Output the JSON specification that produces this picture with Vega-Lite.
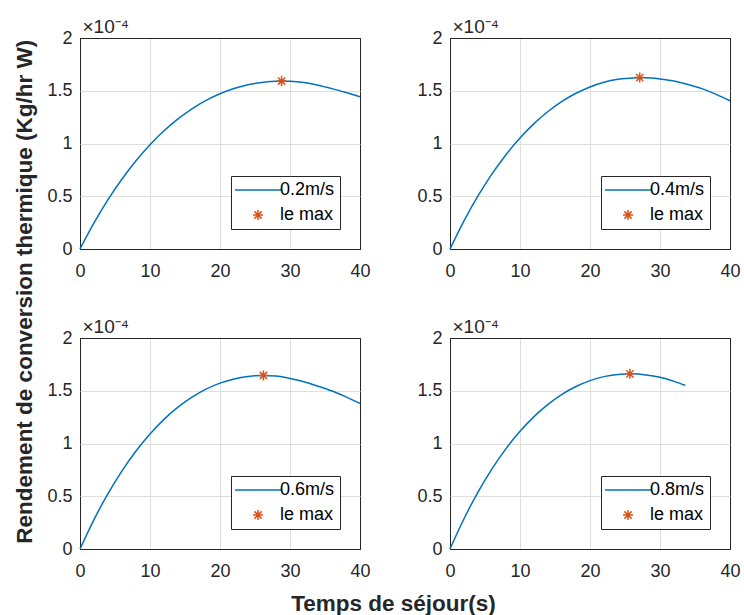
{
  "$schema": "https://vega.github.io/schema/vega-lite/v6.json",
  "padding": {"left": 13, "top": 16, "right": 5, "bottom": 5},
  "background": "white",
  "datasets": {
    "curves": [
      {"speed": "0.2m/s", "series": "0.2m/s", "t": 0, "y": 0},
      {"speed": "0.2m/s", "series": "0.2m/s", "t": 2, "y": 0.247},
      {"speed": "0.2m/s", "series": "0.2m/s", "t": 4, "y": 0.468},
      {"speed": "0.2m/s", "series": "0.2m/s", "t": 6, "y": 0.664},
      {"speed": "0.2m/s", "series": "0.2m/s", "t": 8, "y": 0.837},
      {"speed": "0.2m/s", "series": "0.2m/s", "t": 10, "y": 0.989},
      {"speed": "0.2m/s", "series": "0.2m/s", "t": 12, "y": 1.121},
      {"speed": "0.2m/s", "series": "0.2m/s", "t": 14, "y": 1.234},
      {"speed": "0.2m/s", "series": "0.2m/s", "t": 16, "y": 1.329},
      {"speed": "0.2m/s", "series": "0.2m/s", "t": 18, "y": 1.409},
      {"speed": "0.2m/s", "series": "0.2m/s", "t": 20, "y": 1.472},
      {"speed": "0.2m/s", "series": "0.2m/s", "t": 22, "y": 1.521},
      {"speed": "0.2m/s", "series": "0.2m/s", "t": 24, "y": 1.557},
      {"speed": "0.2m/s", "series": "0.2m/s", "t": 26, "y": 1.579},
      {"speed": "0.2m/s", "series": "0.2m/s", "t": 28, "y": 1.591},
      {"speed": "0.2m/s", "series": "0.2m/s", "t": 30, "y": 1.589},
      {"speed": "0.2m/s", "series": "0.2m/s", "t": 32, "y": 1.578},
      {"speed": "0.2m/s", "series": "0.2m/s", "t": 34, "y": 1.553},
      {"speed": "0.2m/s", "series": "0.2m/s", "t": 36, "y": 1.52},
      {"speed": "0.2m/s", "series": "0.2m/s", "t": 38, "y": 1.483},
      {"speed": "0.2m/s", "series": "0.2m/s", "t": 40, "y": 1.444},
      {"speed": "0.2m/s", "series": "le max", "t": 28.8, "y": 1.592},

      {"speed": "0.4m/s", "series": "0.4m/s", "t": 0, "y": 0},
      {"speed": "0.4m/s", "series": "0.4m/s", "t": 2, "y": 0.267},
      {"speed": "0.4m/s", "series": "0.4m/s", "t": 4, "y": 0.503},
      {"speed": "0.4m/s", "series": "0.4m/s", "t": 6, "y": 0.712},
      {"speed": "0.4m/s", "series": "0.4m/s", "t": 8, "y": 0.894},
      {"speed": "0.4m/s", "series": "0.4m/s", "t": 10, "y": 1.052},
      {"speed": "0.4m/s", "series": "0.4m/s", "t": 12, "y": 1.188},
      {"speed": "0.4m/s", "series": "0.4m/s", "t": 14, "y": 1.303},
      {"speed": "0.4m/s", "series": "0.4m/s", "t": 16, "y": 1.399},
      {"speed": "0.4m/s", "series": "0.4m/s", "t": 18, "y": 1.476},
      {"speed": "0.4m/s", "series": "0.4m/s", "t": 20, "y": 1.536},
      {"speed": "0.4m/s", "series": "0.4m/s", "t": 22, "y": 1.58},
      {"speed": "0.4m/s", "series": "0.4m/s", "t": 24, "y": 1.608},
      {"speed": "0.4m/s", "series": "0.4m/s", "t": 26, "y": 1.622},
      {"speed": "0.4m/s", "series": "0.4m/s", "t": 28, "y": 1.623},
      {"speed": "0.4m/s", "series": "0.4m/s", "t": 30, "y": 1.612},
      {"speed": "0.4m/s", "series": "0.4m/s", "t": 32, "y": 1.592},
      {"speed": "0.4m/s", "series": "0.4m/s", "t": 34, "y": 1.56},
      {"speed": "0.4m/s", "series": "0.4m/s", "t": 36, "y": 1.52},
      {"speed": "0.4m/s", "series": "0.4m/s", "t": 38, "y": 1.466},
      {"speed": "0.4m/s", "series": "0.4m/s", "t": 40, "y": 1.405},
      {"speed": "0.4m/s", "series": "le max", "t": 27.1, "y": 1.625},

      {"speed": "0.6m/s", "series": "0.6m/s", "t": 0, "y": 0},
      {"speed": "0.6m/s", "series": "0.6m/s", "t": 2, "y": 0.279},
      {"speed": "0.6m/s", "series": "0.6m/s", "t": 4, "y": 0.525},
      {"speed": "0.6m/s", "series": "0.6m/s", "t": 6, "y": 0.741},
      {"speed": "0.6m/s", "series": "0.6m/s", "t": 8, "y": 0.929},
      {"speed": "0.6m/s", "series": "0.6m/s", "t": 10, "y": 1.091},
      {"speed": "0.6m/s", "series": "0.6m/s", "t": 12, "y": 1.229},
      {"speed": "0.6m/s", "series": "0.6m/s", "t": 14, "y": 1.344},
      {"speed": "0.6m/s", "series": "0.6m/s", "t": 16, "y": 1.439},
      {"speed": "0.6m/s", "series": "0.6m/s", "t": 18, "y": 1.515},
      {"speed": "0.6m/s", "series": "0.6m/s", "t": 20, "y": 1.572},
      {"speed": "0.6m/s", "series": "0.6m/s", "t": 22, "y": 1.612},
      {"speed": "0.6m/s", "series": "0.6m/s", "t": 24, "y": 1.636},
      {"speed": "0.6m/s", "series": "0.6m/s", "t": 26, "y": 1.645},
      {"speed": "0.6m/s", "series": "0.6m/s", "t": 28, "y": 1.639},
      {"speed": "0.6m/s", "series": "0.6m/s", "t": 30, "y": 1.617},
      {"speed": "0.6m/s", "series": "0.6m/s", "t": 32, "y": 1.585},
      {"speed": "0.6m/s", "series": "0.6m/s", "t": 34, "y": 1.543},
      {"speed": "0.6m/s", "series": "0.6m/s", "t": 36, "y": 1.497},
      {"speed": "0.6m/s", "series": "0.6m/s", "t": 38, "y": 1.442},
      {"speed": "0.6m/s", "series": "0.6m/s", "t": 40, "y": 1.38},
      {"speed": "0.6m/s", "series": "le max", "t": 26.2, "y": 1.645},

      {"speed": "0.8m/s", "series": "0.8m/s", "t": 0, "y": 0},
      {"speed": "0.8m/s", "series": "0.8m/s", "t": 2, "y": 0.287},
      {"speed": "0.8m/s", "series": "0.8m/s", "t": 4, "y": 0.539},
      {"speed": "0.8m/s", "series": "0.8m/s", "t": 6, "y": 0.759},
      {"speed": "0.8m/s", "series": "0.8m/s", "t": 8, "y": 0.951},
      {"speed": "0.8m/s", "series": "0.8m/s", "t": 10, "y": 1.115},
      {"speed": "0.8m/s", "series": "0.8m/s", "t": 12, "y": 1.255},
      {"speed": "0.8m/s", "series": "0.8m/s", "t": 14, "y": 1.371},
      {"speed": "0.8m/s", "series": "0.8m/s", "t": 16, "y": 1.466},
      {"speed": "0.8m/s", "series": "0.8m/s", "t": 18, "y": 1.54},
      {"speed": "0.8m/s", "series": "0.8m/s", "t": 20, "y": 1.596},
      {"speed": "0.8m/s", "series": "0.8m/s", "t": 22, "y": 1.634},
      {"speed": "0.8m/s", "series": "0.8m/s", "t": 24, "y": 1.655},
      {"speed": "0.8m/s", "series": "0.8m/s", "t": 26, "y": 1.66},
      {"speed": "0.8m/s", "series": "0.8m/s", "t": 28, "y": 1.65},
      {"speed": "0.8m/s", "series": "0.8m/s", "t": 30, "y": 1.627},
      {"speed": "0.8m/s", "series": "0.8m/s", "t": 32, "y": 1.589},
      {"speed": "0.8m/s", "series": "0.8m/s", "t": 33.6, "y": 1.552},
      {"speed": "0.8m/s", "series": "le max", "t": 25.7, "y": 1.66}
    ]
  },
  "title": {
    "text": "Rendement de conversion thermique (Kg/hr W)",
    "orient": "left",
    "anchor": "middle",
    "font": "Liberation Sans",
    "fontSize": 22.5,
    "fontWeight": "bold",
    "color": "#262626",
    "offset": 10,
    "dx": 24
  },
  "vconcat": [
    {
      "title": {
        "text": "Temps de séjour(s)",
        "orient": "bottom",
        "anchor": "middle",
        "font": "Liberation Sans",
        "fontSize": 22.5,
        "fontWeight": "bold",
        "color": "#262626",
        "offset": 12
      },
      "columns": 2,
      "spacing": {"column": 90, "row": 89},
      "bounds": "flush",
      "resolve": {"scale": {"color": "independent", "shape": "independent"}, "legend": {"color": "independent", "shape": "independent"}},
      "concat": [
        {
          "width": 280, "height": 211,
          "view": {"stroke": "#262626"},
          "data": {"name": "curves"},
          "transform": [{"filter": "datum.speed === '0.2m/s'"}],
          "layer": [
            {
              "transform": [{"filter": "datum.series !== 'le max'"}],
              "mark": {"type": "line", "strokeWidth": 1.5, "interpolate": "monotone"},
              "encoding": {
                "x": {"field": "t", "type": "quantitative", "scale": {"domain": [0, 40]}, "axis": {"values": [0, 10, 20, 30, 40], "format": "~g", "title": null}},
                "y": {"field": "y", "type": "quantitative", "scale": {"domain": [0, 2]}, "axis": {"values": [0, 0.5, 1, 1.5, 2], "format": "~g", "title": "×10⁻⁴"}},
                "color": {"field": "series", "type": "nominal", "title": null, "scale": {"domain": ["0.2m/s", "le max"], "range": ["#0072BD", "#D95319"]}}
              }
            },
            {
              "transform": [{"filter": "datum.series === 'le max'"}],
              "mark": {"type": "point", "filled": false, "strokeWidth": 1.5, "size": 100, "opacity": 1},
              "encoding": {
                "x": {"field": "t", "type": "quantitative"},
                "y": {"field": "y", "type": "quantitative"},
                "color": {"field": "series", "type": "nominal", "title": null},
                "shape": {"field": "series", "type": "nominal", "title": null, "scale": {"domain": ["0.2m/s", "le max"], "range": ["M-4.6,0L4.6,0", "M0,-1L0,1M-1,0L1,0M-0.72,-0.72L0.72,0.72M-0.72,0.72L0.72,-0.72"]}}
              }
            }
          ]
        },
        {
          "width": 280, "height": 211,
          "view": {"stroke": "#262626"},
          "data": {"name": "curves"},
          "transform": [{"filter": "datum.speed === '0.4m/s'"}],
          "layer": [
            {
              "transform": [{"filter": "datum.series !== 'le max'"}],
              "mark": {"type": "line", "strokeWidth": 1.5, "interpolate": "monotone"},
              "encoding": {
                "x": {"field": "t", "type": "quantitative", "scale": {"domain": [0, 40]}, "axis": {"values": [0, 10, 20, 30, 40], "format": "~g", "title": null}},
                "y": {"field": "y", "type": "quantitative", "scale": {"domain": [0, 2]}, "axis": {"values": [0, 0.5, 1, 1.5, 2], "format": "~g", "title": "×10⁻⁴"}},
                "color": {"field": "series", "type": "nominal", "title": null, "scale": {"domain": ["0.4m/s", "le max"], "range": ["#0072BD", "#D95319"]}}
              }
            },
            {
              "transform": [{"filter": "datum.series === 'le max'"}],
              "mark": {"type": "point", "filled": false, "strokeWidth": 1.5, "size": 100, "opacity": 1},
              "encoding": {
                "x": {"field": "t", "type": "quantitative"},
                "y": {"field": "y", "type": "quantitative"},
                "color": {"field": "series", "type": "nominal", "title": null},
                "shape": {"field": "series", "type": "nominal", "title": null, "scale": {"domain": ["0.4m/s", "le max"], "range": ["M-4.6,0L4.6,0", "M0,-1L0,1M-1,0L1,0M-0.72,-0.72L0.72,0.72M-0.72,0.72L0.72,-0.72"]}}
              }
            }
          ]
        },
        {
          "width": 280, "height": 211,
          "view": {"stroke": "#262626"},
          "data": {"name": "curves"},
          "transform": [{"filter": "datum.speed === '0.6m/s'"}],
          "layer": [
            {
              "transform": [{"filter": "datum.series !== 'le max'"}],
              "mark": {"type": "line", "strokeWidth": 1.5, "interpolate": "monotone"},
              "encoding": {
                "x": {"field": "t", "type": "quantitative", "scale": {"domain": [0, 40]}, "axis": {"values": [0, 10, 20, 30, 40], "format": "~g", "title": null}},
                "y": {"field": "y", "type": "quantitative", "scale": {"domain": [0, 2]}, "axis": {"values": [0, 0.5, 1, 1.5, 2], "format": "~g", "title": "×10⁻⁴"}},
                "color": {"field": "series", "type": "nominal", "title": null, "scale": {"domain": ["0.6m/s", "le max"], "range": ["#0072BD", "#D95319"]}}
              }
            },
            {
              "transform": [{"filter": "datum.series === 'le max'"}],
              "mark": {"type": "point", "filled": false, "strokeWidth": 1.5, "size": 100, "opacity": 1},
              "encoding": {
                "x": {"field": "t", "type": "quantitative"},
                "y": {"field": "y", "type": "quantitative"},
                "color": {"field": "series", "type": "nominal", "title": null},
                "shape": {"field": "series", "type": "nominal", "title": null, "scale": {"domain": ["0.6m/s", "le max"], "range": ["M-4.6,0L4.6,0", "M0,-1L0,1M-1,0L1,0M-0.72,-0.72L0.72,0.72M-0.72,0.72L0.72,-0.72"]}}
              }
            }
          ]
        },
        {
          "width": 280, "height": 211,
          "view": {"stroke": "#262626"},
          "data": {"name": "curves"},
          "transform": [{"filter": "datum.speed === '0.8m/s'"}],
          "layer": [
            {
              "transform": [{"filter": "datum.series !== 'le max'"}],
              "mark": {"type": "line", "strokeWidth": 1.5, "interpolate": "monotone"},
              "encoding": {
                "x": {"field": "t", "type": "quantitative", "scale": {"domain": [0, 40]}, "axis": {"values": [0, 10, 20, 30, 40], "format": "~g", "title": null}},
                "y": {"field": "y", "type": "quantitative", "scale": {"domain": [0, 2]}, "axis": {"values": [0, 0.5, 1, 1.5, 2], "format": "~g", "title": "×10⁻⁴"}},
                "color": {"field": "series", "type": "nominal", "title": null, "scale": {"domain": ["0.8m/s", "le max"], "range": ["#0072BD", "#D95319"]}}
              }
            },
            {
              "transform": [{"filter": "datum.series === 'le max'"}],
              "mark": {"type": "point", "filled": false, "strokeWidth": 1.5, "size": 100, "opacity": 1},
              "encoding": {
                "x": {"field": "t", "type": "quantitative"},
                "y": {"field": "y", "type": "quantitative"},
                "color": {"field": "series", "type": "nominal", "title": null},
                "shape": {"field": "series", "type": "nominal", "title": null, "scale": {"domain": ["0.8m/s", "le max"], "range": ["M-4.6,0L4.6,0", "M0,-1L0,1M-1,0L1,0M-0.72,-0.72L0.72,0.72M-0.72,0.72L0.72,-0.72"]}}
              }
            }
          ]
        }
      ]
    }
  ],
  "config": {
    "font": "Liberation Sans",
    "view": {"stroke": "#262626", "strokeWidth": 1},
    "axis": {
      "domain": false,
      "ticks": false,
      "grid": true,
      "gridWidth": 1,
      "labelFont": "Liberation Sans",
      "labelFontSize": 18,
      "labelColor": "#262626",
      "labelFlush": false,
      "labelOverlap": false
    },
    "axisX": {
      "labelPadding": 13,
      "gridColor": {"condition": {"test": "datum.value === 0 || datum.value === 40", "value": "#262626"}, "value": "#dedede"}
    },
    "axisY": {
      "labelPadding": 8,
      "gridColor": {"condition": {"test": "datum.value === 0 || datum.value === 2", "value": "#262626"}, "value": "#dedede"},
      "titleAngle": 0,
      "titleAlign": "left",
      "titleBaseline": "alphabetic",
      "titleX": 2,
      "titleY": -6,
      "titleFont": "Liberation Sans",
      "titleFontSize": 19,
      "titleFontWeight": "normal",
      "titleColor": "#262626"
    },
    "legend": {
      "orient": "bottom-right",
      "offset": 20,
      "strokeColor": "#262626",
      "fillColor": "white",
      "padding": 5,
      "cornerRadius": 0,
      "labelFont": "Liberation Sans",
      "labelFontSize": 18,
      "labelColor": "#000000",
      "symbolSize": 100,
      "symbolStrokeWidth": 1.5,
      "symbolOpacity": 1,
      "symbolOffset": 13,
      "labelOffset": 13,
      "rowPadding": 7
    }
  }
}
